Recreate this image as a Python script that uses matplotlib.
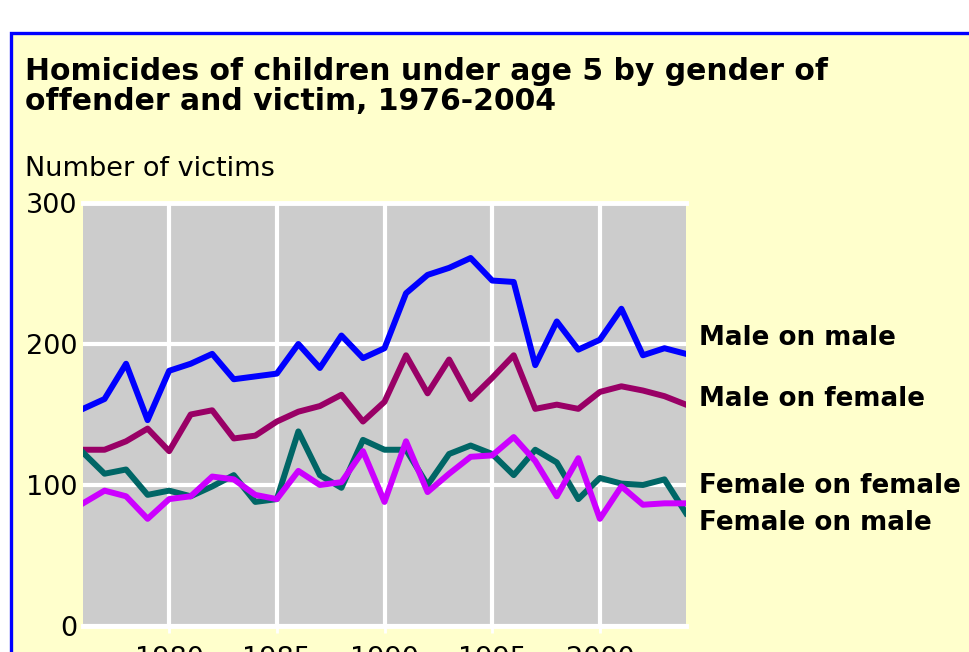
import matplotlib
matplotlib.use("Agg")
import matplotlib.pyplot as plt
from matplotlib.patches import Rectangle

# Data
years = list(range(1976, 2005))
male_on_male = [154, 161, 186, 146, 181, 186, 193, 175, 177, 179, 200, 183, 206, 190, 197,
                236, 249, 254, 261, 245, 244, 185, 216, 196, 203, 225, 192, 197, 193]
male_on_female = [125, 125, 131, 140, 124, 150, 153, 133, 135, 145, 152, 156, 164, 145, 159,
                  192, 165, 189, 161, 176, 192, 154, 157, 154, 166, 170, 167, 163, 157]
female_on_female = [123, 108, 111, 93, 96, 92, 99, 107, 88, 90, 138, 107, 98, 132, 125,
                    125, 100, 122, 128, 122, 107, 125, 116, 90, 105, 101, 100, 104, 80]
female_on_male = [87, 96, 92, 76, 90, 92, 106, 104, 93, 90, 110, 100, 102, 124, 88,
                  131, 95, 108, 120, 121, 134, 117, 92, 119, 76, 99, 86, 87, 87]

series = [male_on_male, male_on_female, female_on_female, female_on_male]
names = ["Male on male", "Male on female", "Female on female", "Female on male"]
colors = ["#0000ff", "#990066", "#006666", "#cc00ff"]
label_y = [199, 156, 94.5, 68]   # baselines of the line labels, in data units

plt.rcParams['font.family'] = ['DejaVu Sans']

W, H = 969, 652
fig = plt.figure(figsize=(W / 100, H / 100), dpi=100)
fig.patch.set_facecolor("white")

# yellow panel with blue border
frame = Rectangle((11 / W, -0.2), 1.1, (H - 33) / H + 0.2, transform=fig.transFigure,
                  facecolor="#ffffcc", edgecolor="#0000ff", linewidth=2.4, zorder=-10)
fig.patches.append(frame)

fig.text(25 / W, 1 - 80 / H, "Homicides of children under age 5 by gender of",
         fontsize=21.5, fontweight="bold", va="baseline", ha="left")
fig.text(25 / W, 1 - 110 / H, "offender and victim, 1976-2004",
         fontsize=21.5, fontweight="bold", va="baseline", ha="left")
fig.text(25 / W, 1 - 176 / H, "Number of victims", fontsize=19.5, va="baseline", ha="left")

ax = fig.add_axes([83 / W, 26 / H, (686 - 83) / W, (626 - 203) / H])
ax.set_facecolor("#cccccc")

for vals, c in zip(series, colors):
    ax.plot(years, vals, color=c, linewidth=4.3, zorder=3)

for name, ly in zip(names, label_y):
    ax.text(2004.6, ly, name, fontsize=18.8, fontweight="bold", va="baseline", ha="left",
            clip_on=False)

ax.set_xlim(1976, 2004)
ax.set_ylim(0, 300)
ax.set_xticks([1980, 1985, 1990, 1995, 2000])
ax.set_yticks([0, 100, 200, 300])
ax.grid(True, color="white", linewidth=3)
ax.set_axisbelow(True)
for side in ["left", "right"]:
    ax.spines[side].set_visible(False)
for side in ["top", "bottom"]:
    ax.spines[side].set_color("white")
    ax.spines[side].set_linewidth(3.5)
ax.tick_params(axis="y", length=0, pad=4, labelsize=19.5)
ax.tick_params(axis="x", length=5, width=2, color="white", pad=9.5, labelsize=19.5)

fig.savefig("out.png", dpi=100)
